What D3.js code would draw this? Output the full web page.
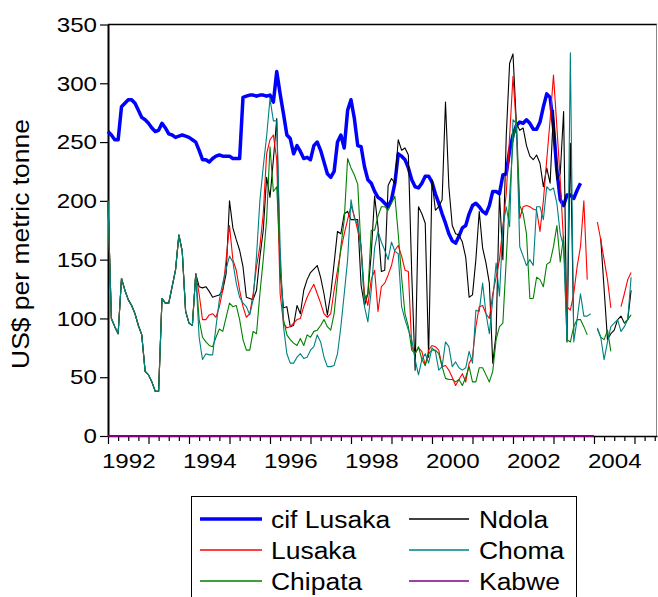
<!DOCTYPE html>
<html><head><meta charset="utf-8">
<script src="https://cdn.jsdelivr.net/npm/d3@7"></script>
<style>
body{margin:0;background:#fff}
text{font-family:"Liberation Sans",Arial,sans-serif;fill:#000}
</style>
</head><body>
<svg id="chart" width="658" height="597"></svg>
<script>
// Monthly observations, first month = January 1992
const startYear = 1992;

// Segment common to the four market series (Jan 1992 - Mar 1994)
const early = [200,100,93,87,134,124,116,111,104,94,86,55,52,46,38,38,117,113,113,127,141,171,157,106,96,94,138];

const cifLusaka = [
 259,256,252,252,280,283,286,286,283,277,
 271,269,266,262,259,260,266,262,257,256,
 254,255,256,255,254,252,250,243,235,235,
 233,236,238,239,238,238,238,236,236,236,
 288,289,290,290,289,290,290,289,290,284,
 310,291,274,256,253,240,247,242,236,237,
 235,247,250,243,233,223,220,225,250,256,
 245,277,286,270,247,246,229,218,215,208,
 203,201,198,195,201,215,240,238,235,228,
 218,212,211,215,221,221,216,206,198,189,
 181,172,166,164,170,177,179,189,196,198,
 195,191,189,196,208,208,206,222,223,243,
 256,264,267,266,269,266,261,261,267,280,
 291,288,263,226,201,196,205,205,202,209,215];

const ndola = early.concat([
 127,126,127,123,118,119,120,124,138,200,
 177,167,158,144,118,117,116,124,152,175,
 220,203,235,270,140,109,110,93,94,111,
 104,124,133,139,142,145,135,121,103,121,
 147,174,172,189,191,184,184,184,128,111,
 121,155,204,178,140,141,213,219,215,252,
 243,245,239,138,56,195,189,181,67,218,
 192,195,201,284,212,179,172,171,165,152,
 118,120,150,191,160,147,130,62,87,206,
 150,255,317,325,266,260,262,247,238,235,
 239,232,212,228,215,277,218,223,276,80,
 249,90,null,null,null,null,null,null,null,168,
 125,82,87,90,99,102,96,99,124]);

const lusaka = early.concat([
 121,99,99,103,104,101,110,124,150,179,
 150,141,124,110,101,104,121,144,161,189,
 240,252,256,235,121,96,92,93,96,99,
 100,110,118,124,129,121,113,104,101,104,
 124,141,158,172,184,196,187,175,161,121,
 111,133,141,106,127,130,137,145,158,162,
 153,141,140,76,70,75,72,60,73,77,
 76,73,59,60,56,50,43,48,53,46,
 62,67,93,110,111,104,100,121,135,150,
 178,206,255,306,263,185,195,196,195,193,
 192,174,200,235,269,307,263,218,164,110,
 107,121,144,161,200,133,null,null,182,167,
 150,133,109,null,null,110,121,133,139]);

const choma = early.concat([
 84,65,70,69,69,93,116,130,142,153,
 148,130,118,113,110,103,116,153,200,229,
 255,287,268,268,161,93,70,62,62,67,
 70,66,67,73,76,86,80,67,59,59,
 60,70,93,121,150,201,185,180,161,110,
 97,124,160,174,165,158,150,165,157,155,
 110,99,90,82,65,52,65,70,62,75,
 72,56,59,80,76,59,63,58,56,58,
 72,62,107,106,130,104,87,116,147,119,
 178,195,178,269,266,161,153,145,150,145,
 195,195,184,212,209,211,198,172,161,82,
 326,80,99,121,102,102,104,null,92,84,
 65,80,93,96,99,89,93,99,135]);

const chipata = early.concat([
 99,84,80,77,76,84,91,89,101,113,
 110,111,99,82,73,73,89,87,121,150,
 184,246,208,212,150,99,86,82,79,77,
 83,77,86,84,89,90,94,99,93,90,
 104,133,161,184,236,228,222,214,158,116,
 121,175,175,187,195,195,192,198,204,172,
 135,104,93,73,70,76,65,60,70,73,
 73,70,59,49,48,48,46,48,43,50,
 59,46,46,58,58,52,46,55,82,93,
 96,150,204,250,269,196,189,172,117,117,
 135,133,127,146,148,161,179,148,170,82,
 80,93,99,99,93,86,null,null,91,84,
 82,90,72,null,null,null,96,99,103]);

const kabwe = [
 0,0,0,0,0,0,0,0,0,0,0,0,
 0,0,0,0,0,0,0,0,0,0,0,0,
 0,0,0,0,0,0,0,0,0,0,0,0,
 0,0,0,0,0,0,0,0,0,0,0,0,
 0,0,0,0,0,0,0,0,0,0,0,0,
 0,0,0,0,0,0,0,0,0,0,0,0,
 0,0,0,0,0,0,0,0,0,0,0,0,
 0,0,0,0,0,0,0,0,0,0,0,0,
 0,0,0,0,0,0,0,0,0,0,0,0,
 0,0,0,0,0,0,0,0,0,0,0,0,
 0,0,0,0,0,0,0,0,0,0,0,0,
 0,0,0,0,0,0,0,0,0,0,0,0,
 0];

const yTicks = [0,50,100,150,200,250,300,350];
const yearTicks = [1992,1993,1994,1995,1996,1997,1998,1999,2000,2001,2002,2003,2004,2005];
const yearLabels = [1992,1994,1996,1998,2000,2002,2004];
const yTitle = "US$ per metric tonne";

const series = [
  {name:"cif Lusaka", values:cifLusaka, color:"#0000ff", width:3.5},
  {name:"Ndola",      values:ndola,     color:"#000000", width:1.1},
  {name:"Lusaka",     values:lusaka,    color:"#ff0000", width:1.1},
  {name:"Choma",      values:choma,     color:"#008080", width:1.1},
  {name:"Chipata",    values:chipata,   color:"#008000", width:1.1},
  {name:"Kabwe",      values:kabwe,     color:"#800080", width:2}
];
const drawOrder = ["cif Lusaka","Ndola","Lusaka","Chipata","Choma","Kabwe"];

const svg = d3.select("#chart");
const x = d3.scaleLinear().domain([1992, 2005.556]).range([108, 657]);
const y = d3.scaleLinear().domain([0, 350]).range([436, 24.5]);

// frame
svg.append("line").attr("x1",108).attr("x2",657).attr("y1",24.5).attr("y2",24.5).attr("stroke","#000").attr("stroke-width",1.6);
svg.append("line").attr("x1",656.5).attr("x2",656.5).attr("y1",24.5).attr("y2",436).attr("stroke","#888").attr("stroke-width",1);

// y axis
const gy = svg.append("g").attr("transform","translate(108,0)")
  .call(d3.axisLeft(y).tickValues(yTicks).tickSize(8).tickSizeOuter(0).tickPadding(3));
gy.select(".domain").attr("stroke","#000").attr("stroke-width",2);
gy.selectAll(".tick line").attr("stroke","#000").attr("stroke-width",1.2);
gy.selectAll("text").attr("font-size",21).attr("font-family",null);

// x axis: major year ticks, minor quarter ticks, labels at mid-year
const minorTicks = d3.range(1992, 2005.6, 0.25).filter(v => v % 1 !== 0);
const gx = svg.append("g").attr("transform","translate(0,436)");
gx.call(d3.axisBottom(x).tickValues(yearTicks).tickSize(8).tickSizeOuter(0).tickFormat(""));
gx.select(".domain").attr("stroke","#000").attr("stroke-width",1.6);
const gxm = svg.append("g").attr("transform","translate(0,436)")
  .call(d3.axisBottom(x).tickValues(minorTicks).tickSize(5).tickFormat(""));
gxm.select(".domain").remove();
const gxl = svg.append("g").attr("transform","translate(0,436)")
  .call(d3.axisBottom(x).tickValues(yearLabels.map(v => v + 0.5)).tickSize(0).tickPadding(17).tickFormat(d => String(Math.floor(d))));
gxl.select(".domain").remove();
gxl.selectAll("text").attr("font-size",21).attr("font-family",null);
svg.selectAll(".tick line").attr("stroke","#000").attr("stroke-width",1.2);

// lines
const line = d3.line()
  .defined(d => d.v !== null && d.v !== undefined)
  .x(d => x(startYear + d.i/12))
  .y(d => y(d.v));
drawOrder.forEach(n => {
  const s = series.find(t => t.name === n);
  const pts = s.values.map((v,i) => ({i, v}));
  svg.append("path").datum(pts)
    .attr("fill","none").attr("stroke",s.color).attr("stroke-width",s.width)
    .attr("stroke-linejoin","round")
    .attr("d", line);
});

// y title
svg.append("text").attr("transform","translate(29,244) rotate(-90)")
  .attr("text-anchor","middle").attr("font-size",23).text(yTitle);

// legend
const lg = svg.append("g");
lg.append("rect").attr("x",191.5).attr("y",496.5).attr("width",385).attr("height",120)
  .attr("fill","#fff").attr("stroke","#000").attr("stroke-width",1);
const legendOrder = ["cif Lusaka","Ndola","Lusaka","Choma","Chipata","Kabwe"];
const colX = [[200,262,271],[409,469,479]];
const rowY = [519,550,581];
legendOrder.forEach((n,k) => {
  const s = series.find(t => t.name === n);
  const c = colX[k % 2], r = rowY[Math.floor(k / 2)];
  lg.append("line").attr("x1",c[0]).attr("x2",c[1]).attr("y1",r).attr("y2",r)
    .attr("stroke",s.color).attr("stroke-width", s.name === "cif Lusaka" ? 3.5 : 1.4);
  lg.append("text").attr("x",c[2]).attr("y",r + 9).attr("font-size",23).text(s.name);
});

// horizontal stretch of all text to match the original typeface width
svg.selectAll("text").each(function(){
  const w = this.getComputedTextLength();
  if (w > 0) {
    this.setAttribute("textLength", (w * 1.15).toFixed(1));
    this.setAttribute("lengthAdjust", "spacingAndGlyphs");
  }
});
</script>
</body></html>
